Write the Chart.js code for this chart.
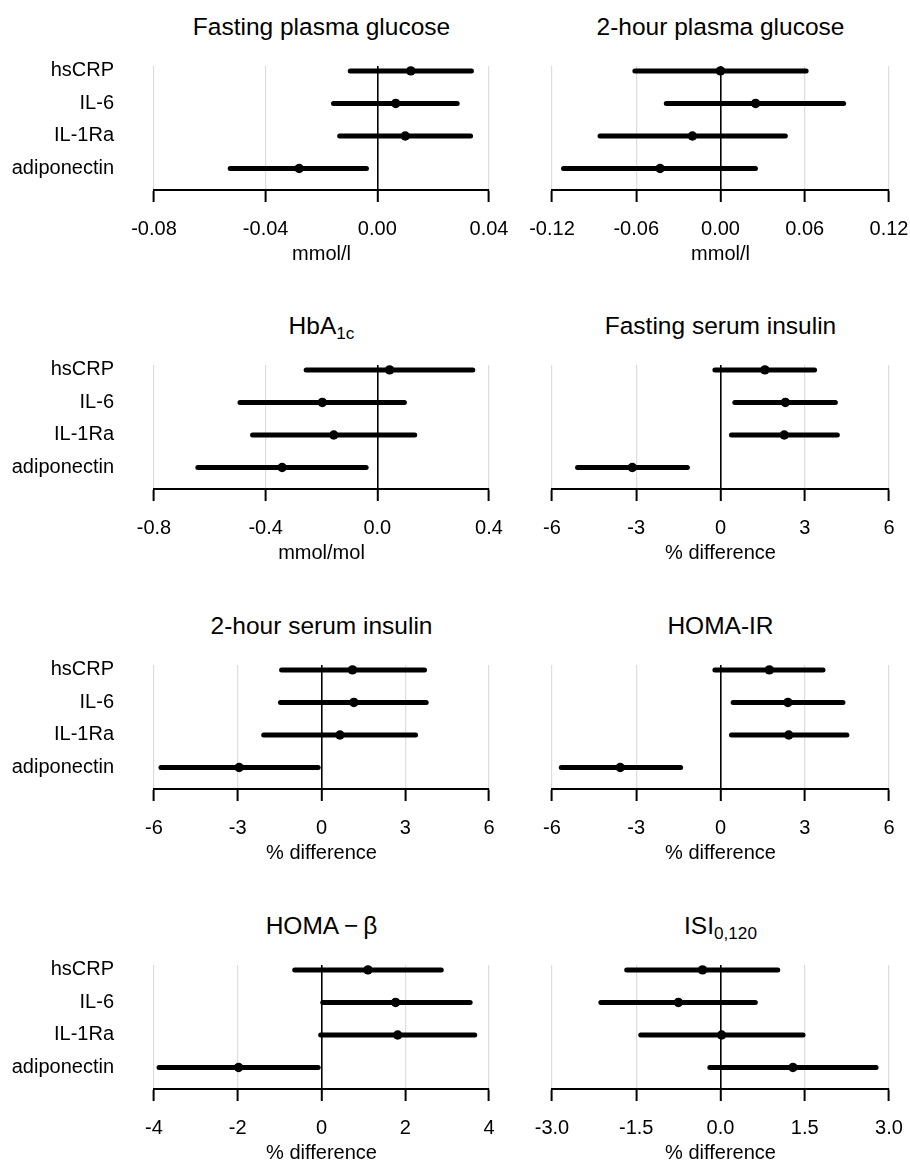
<!DOCTYPE html>
<html lang="en">
<head>
  <meta charset="UTF-8">
  <title>Inflammatory markers and glycaemic traits</title>
  <script src="https://cdn.jsdelivr.net/npm/chart.js"></script>
  <style>
    body { margin: 0; background: #fff; font-family: 'Liberation Sans', Arial, sans-serif; }
    #page { position: relative; width: 910px; height: 1161px; overflow: hidden; }
    canvas { position: absolute; }
    .ttl { position: absolute; width: 340px; text-align: center; font-size: 24.5px; line-height: 30px; color: #000; white-space: nowrap; }
    .ttl sub { font-size: 0.7em; vertical-align: -0.28em; line-height: 0; }
  </style>
</head>
<body>
<div id="page"></div>
<script>
  const markers = ['hsCRP', 'IL-6', 'IL-1Ra', 'adiponectin'];

  // estimates and 95% CI per outcome, order follows markers
  const fpgEst = [0.012, 0.0066, 0.010, -0.028];
  const fpgLo  = [-0.0097, -0.0157, -0.0135, -0.0527];
  const fpgHi  = [0.0337, 0.0286, 0.0334, -0.0039];

  const ogttEst = [0.000, 0.025, -0.020, -0.043];
  const ogttLo  = [-0.061, -0.0386, -0.0858, -0.1118];
  const ogttHi  = [0.061, 0.0877, 0.0462, 0.0249];

  const hbaEst = [0.044, -0.197, -0.156, -0.341];
  const hbaLo  = [-0.255, -0.492, -0.447, -0.643];
  const hbaHi  = [0.342, 0.097, 0.134, -0.040];

  const fsiEst = [1.58, 2.31, 2.27, -3.14];
  const fsiLo  = [-0.20, 0.51, 0.39, -5.09];
  const fsiHi  = [3.35, 4.09, 4.16, -1.18];

  const tsiEst = [1.11, 1.16, 0.66, -2.95];
  const tsiLo  = [-1.43, -1.47, -2.07, -5.75];
  const tsiHi  = [3.69, 3.75, 3.37, -0.12];

  const irEst = [1.74, 2.40, 2.43, -3.57];
  const irLo  = [-0.20, 0.45, 0.39, -5.67];
  const irHi  = [3.65, 4.36, 4.50, -1.42];

  const betaEst = [1.11, 1.77, 1.82, -1.98];
  const betaLo  = [-0.64, 0.03, -0.02, -3.88];
  const betaHi  = [2.86, 3.55, 3.66, -0.08];

  const isiEst = [-0.32, -0.75, 0.02, 1.29];
  const isiLo  = [-1.67, -2.13, -1.42, -0.19];
  const isiHi  = [1.02, 0.62, 1.47, 2.77];

  // axis ticks
  const fpgTicks = [-0.08, -0.04, 0, 0.04];
  const fpgTickLabels = ['-0.08', '-0.04', '0.00', '0.04'];
  const ogttTicks = [-0.12, -0.06, 0, 0.06, 0.12];
  const ogttTickLabels = ['-0.12', '-0.06', '0.00', '0.06', '0.12'];
  const hbaTicks = [-0.8, -0.4, 0, 0.4];
  const hbaTickLabels = ['-0.8', '-0.4', '0.0', '0.4'];
  const pctTicks = [-6, -3, 0, 3, 6];
  const pctTickLabels = ['-6', '-3', '0', '3', '6'];
  const betaTicks = [-4, -2, 0, 2, 4];
  const betaTickLabels = ['-4', '-2', '0', '2', '4'];
  const isiTicks = [-3, -1.5, 0, 1.5, 3];
  const isiTickLabels = ['-3.0', '-1.5', '0.0', '1.5', '3.0'];

  const panels = [
    { title: 'Fasting plasma glucose', unit: 'mmol/l', est: fpgEst, lo: fpgLo, hi: fpgHi, ticks: fpgTicks, labels: fpgTickLabels },
    { title: '2-hour plasma glucose', unit: 'mmol/l', est: ogttEst, lo: ogttLo, hi: ogttHi, ticks: ogttTicks, labels: ogttTickLabels },
    { title: 'HbA<sub>1c</sub>', unit: 'mmol/mol', est: hbaEst, lo: hbaLo, hi: hbaHi, ticks: hbaTicks, labels: hbaTickLabels },
    { title: 'Fasting serum insulin', unit: '% difference', est: fsiEst, lo: fsiLo, hi: fsiHi, ticks: pctTicks, labels: pctTickLabels },
    { title: '2-hour serum insulin', unit: '% difference', est: tsiEst, lo: tsiLo, hi: tsiHi, ticks: pctTicks, labels: pctTickLabels },
    { title: 'HOMA-IR', unit: '% difference', est: irEst, lo: irLo, hi: irHi, ticks: pctTicks, labels: pctTickLabels },
    { title: 'HOMA\u2009\u2212\u2009\u03b2', unit: '% difference', est: betaEst, lo: betaLo, hi: betaHi, ticks: betaTicks, labels: betaTickLabels },
    { title: 'ISI<sub>0,120</sub>', unit: '% difference', est: isiEst, lo: isiLo, hi: isiHi, ticks: isiTicks, labels: isiTickLabels }
  ];

  Chart.defaults.font.family = "'Liberation Sans', Arial, sans-serif";
  Chart.defaults.font.size = 20;
  Chart.defaults.color = '#000';

  const page = document.getElementById('page');
  const plotLeft = [154, 552];
  const plotRight = [489, 889];

  panels.forEach((p, k) => {
    const col = k % 2, row = Math.floor(k / 2);
    const areaTop = Math.round(65.8 + row * 299.6);

    const ttl = document.createElement('div');
    ttl.className = 'ttl';
    ttl.innerHTML = p.title;
    ttl.style.left = (plotLeft[col] + (plotRight[col] - plotLeft[col]) / 2 - 170) + 'px';
    ttl.style.top = (areaTop - 54) + 'px';
    page.appendChild(ttl);

    // canvases overlap a little; the right one runs past the page edge (clipped)
    const canvasLeft = col === 0 ? 0 : 420;
    const canvasW = col === 0 ? 540 : 530;
    const canvas = document.createElement('canvas');
    canvas.width = canvasW;
    canvas.height = 270;
    canvas.style.left = canvasLeft + 'px';
    canvas.style.top = (areaTop - 65) + 'px';
    page.appendChild(canvas);

    const datasets = markers.map((m, i) => ({
      label: m,
      data: [{ x: p.lo[i], y: i }, { x: p.hi[i], y: i }],
      showLine: true,
      borderColor: '#000',
      borderWidth: 5,
      borderCapStyle: 'round',
      pointRadius: 0
    }));
    datasets.push({
      label: 'estimate',
      data: p.est.map((v, i) => ({ x: v, y: i })),
      pointRadius: 4.7,
      pointBackgroundColor: '#000',
      pointBorderWidth: 0
    });

    new Chart(canvas, {
      type: 'scatter',
      data: { datasets },
      options: {
        responsive: false,
        animation: false,
        clip: false,
        layout: {
          padding: {
            top: 65, bottom: 0,
            left: col === 0 ? 0 : plotLeft[1] - canvasLeft,
            right: canvasLeft + canvasW - plotRight[col]
          }
        },
        plugins: { legend: { display: false }, tooltip: { enabled: false } },
        scales: {
          x: {
            type: 'linear',
            min: p.ticks[0],
            max: p.ticks[p.ticks.length - 1],
            afterBuildTicks: s => { s.ticks = p.ticks.map(v => ({ value: v })); },
            afterFit: s => { s.height = 81; },
            ticks: {
              autoSkip: false, maxRotation: 0, padding: 15, color: '#000',
              callback: (v, i) => p.labels[i]
            },
            grid: {
              color: c => (c.tick && c.tick.value === 0) ? '#000' : '#dddddd',
              lineWidth: c => (c.tick && c.tick.value === 0) ? 1.6 : 1.2,
              tickColor: '#000', tickWidth: 2, tickLength: 12
            },
            border: { display: true, color: '#000', width: 2 },
            title: { display: true, text: p.unit, color: '#000', font: { size: 20 }, padding: { top: 0, bottom: 5 } }
          },
          y: {
            type: 'linear',
            display: col === 0,
            reverse: true,
            min: -0.15,
            max: 3.66,
            afterBuildTicks: s => { s.ticks = markers.map((m, i) => ({ value: i })); },
            afterFit: s => { s.width = col === 0 ? plotLeft[0] : 0; },
            ticks: { padding: 40, color: '#000', callback: v => markers[v] },
            grid: { display: false, drawTicks: false },
            border: { display: false }
          }
        }
      }
    });
  });
</script>
</body>
</html>
